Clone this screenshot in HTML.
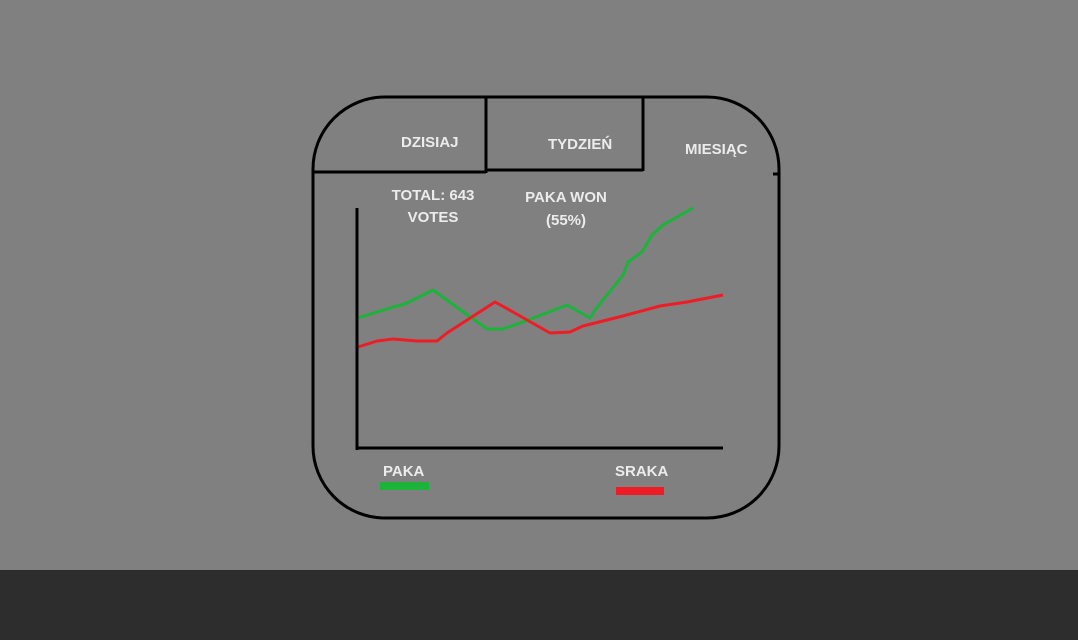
<!DOCTYPE html>
<html><head><meta charset="utf-8"><style>
html,body{margin:0;padding:0;width:1078px;height:640px;overflow:hidden;background:#808080;font-family:"Liberation Sans",sans-serif}
svg{position:absolute;left:0;top:0}
text{font-family:"Liberation Sans",sans-serif;font-weight:bold;font-size:15px;fill:#ececec}
</style></head><body>
<svg width="1078" height="640">
<rect x="0" y="570" width="1078" height="70" fill="#2d2d2d"/>
<rect x="313" y="97" width="466" height="421" rx="72" ry="72" fill="none" stroke="#000" stroke-width="3"/>
<line x1="313" y1="172" x2="486" y2="172" stroke="#000" stroke-width="3"/>
<line x1="486" y1="170" x2="643" y2="170" stroke="#000" stroke-width="3"/>
<line x1="486" y1="96" x2="486" y2="173" stroke="#000" stroke-width="3"/>
<line x1="643" y1="96" x2="643" y2="171" stroke="#000" stroke-width="3"/>
<line x1="773" y1="174" x2="779" y2="174" stroke="#000" stroke-width="3"/>
<text x="401" y="147">DZISIAJ</text>
<text x="548" y="149">TYDZIEŃ</text>
<text x="685" y="154">MIESIĄC</text>
<text x="433" y="200" text-anchor="middle">TOTAL: 643</text>
<text x="433" y="222" text-anchor="middle">VOTES</text>
<text x="566" y="202" text-anchor="middle">PAKA WON</text>
<text x="566" y="225" text-anchor="middle">(55%)</text>
<g id="plot"></g>
<line x1="357" y1="208" x2="357" y2="450" stroke="#000" stroke-width="3"/>
<line x1="356" y1="448" x2="723" y2="448" stroke="#000" stroke-width="3"/>
<text x="383" y="476">PAKA</text>
<rect x="380" y="482" width="49" height="8" fill="#1bb33a"/>
<text x="615" y="476">SRAKA</text>
<rect x="616" y="487" width="48" height="8" fill="#ee1c24"/>
</svg>
<script>
const pakaX=[1,36,48,76,130,146,166,210,233,238,266,271,285,295,306,336];
const pakaY=[130,141,144,158,119,119,126,143,130,138,173,186,196,213,223,240];
const srakaX=[1,20,36,60,80,90,138,156,193,213,226,266,303,330,366];
const srakaY=[101,107,109,107,107,115,146,136,115,116,122,132,142,146,153];
const x0=357,x1=723,y0=448,y1=210,xMax=366,yMax=238;
function sx(v){return x0+v/xMax*(x1-x0);}
function sy(v){return y0-v/yMax*(y0-y1);}
const g=document.getElementById('plot');
function line(xs,ys,color,name){
  const p=document.createElementNS('http://www.w3.org/2000/svg','polyline');
  p.setAttribute('points',xs.map((x,i)=>sx(x)+','+sy(ys[i])).join(' '));
  p.setAttribute('fill','none');p.setAttribute('stroke',color);p.setAttribute('stroke-width','3');
  p.setAttribute('stroke-linejoin','round');
  
  
  g.appendChild(p);
}
line(pakaX,pakaY,'#1bb33a','paka-line');
line(srakaX,srakaY,'#ee1c24','sraka-line');
</script>
</body></html>
